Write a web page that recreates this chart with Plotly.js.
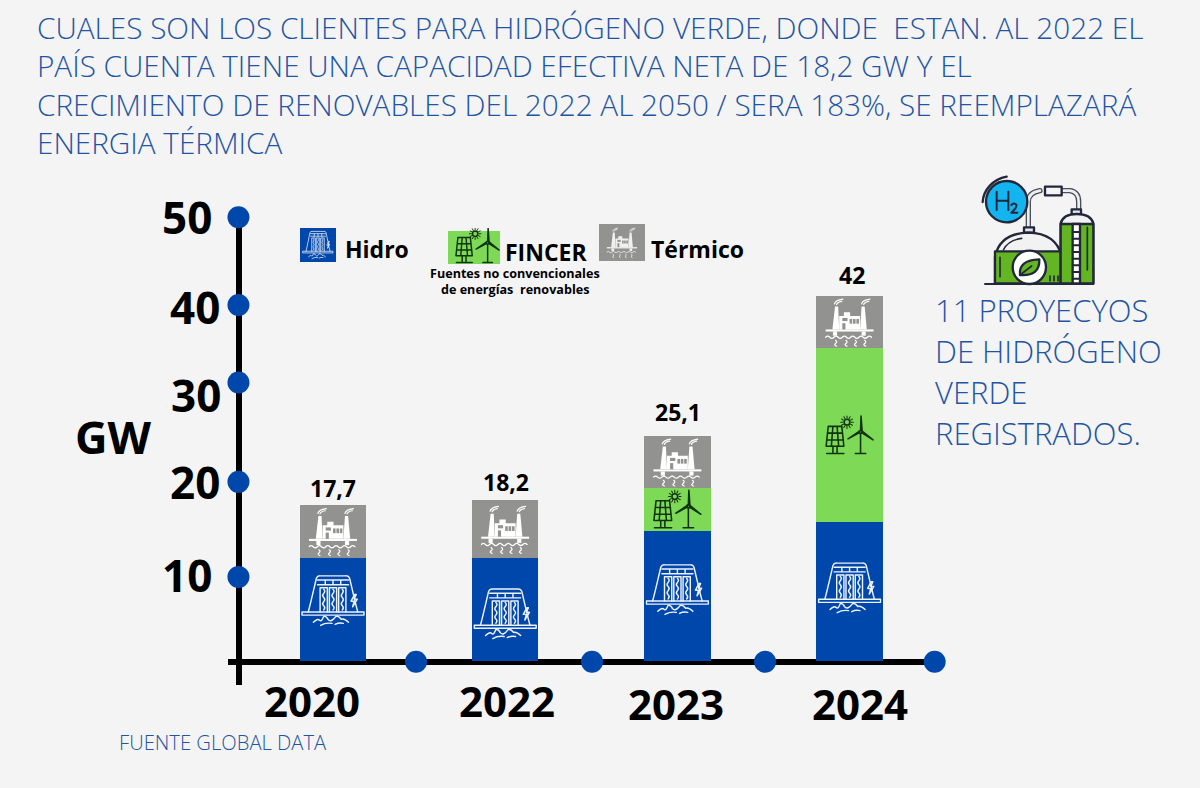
<!DOCTYPE html>
<html>
<head>
<meta charset="utf-8">
<script src="https://cdn.plot.ly/plotly-3.0.1.min.js"></script>
<style>html,body{margin:0;padding:0;background:#f4f4f4}#chart{width:1200px;height:788px}</style>
</head>
<body>
<div id="chart"></div>
<script>
// ---- data ----
const years = ['2020', '2022', '2023', '2024'];
const hidro = [11.6, 11.6, 14.7, 15.7];
const fincer = [0, 0, 4.9, 19.8];
const termico = [6.1, 6.6, 5.9, 5.9];
const totalLabels = ['17,7', '18,2', '25,1', '42'];
const yTickLabels = ['10', '20', '30', '40', '50'];
const yDotValues = [9.5, 20.3, 31.6, 40.4, 50.38];
const xDotValues = [0.482, 1.504, 2.509, 3.494];
const titleLines = [
  'CUALES SON LOS CLIENTES PARA HIDRÓGENO VERDE, DONDE  ESTAN. AL 2022 EL',
  'PAÍS CUENTA TIENE UNA CAPACIDAD EFECTIVA NETA DE 18,2 GW Y EL',
  'CRECIMIENTO DE RENOVABLES DEL 2022 AL 2050 / SERA 183%, SE REEMPLAZARÁ',
  'ENERGIA TÉRMICA'
];
const sideLines = ['11 PROYECYOS', 'DE HIDRÓGENO', 'VERDE', 'REGISTRADOS.'];

// ---- colours and geometry ----
const BLUE = '#0047ab', GREEN = '#7ed957', GREY = '#929290', BG = '#f4f4f4', TXT = '#1f55a3';
const L = 228, R = 935, T = 217, B = 685;
const PXX = 172.2, PXY = 8.8, Y0 = 660.5, X0 = 333;
const xRange = [(L - X0) / PXX, (R - X0) / PXX];
const yRange = [(Y0 - B) / PXY, (Y0 - T) / PXY];
const px = x => (x - L) / (R - L);
const py = y => (B - y) / (B - T);

// ---- icons ----
const uri = s => 'data:image/svg+xml,' + encodeURIComponent(s);
const damBody = `<g fill="none" stroke="#eef3fb" stroke-width="2.8" stroke-linejoin="round" stroke-linecap="round">
<rect x="2" y="72" width="120" height="6"/>
<path d="M14 72C20 50 26 22 30 6Q32 1 38 2H86Q92 1 94 6C98 22 104 50 110 72"/>
<path d="M32 10H92M32 19H92M47 10V19M62 10V19M77 10V19"/>
<path d="M37 72V25H51V72M55 72V25H69V72M73 72V25H87V72"/>
<path d="M44 28q4 4 0 8t0 8t0 8t0 8t0 8M62 28q4 4 0 8t0 8t0 8t0 8t0 8M80 28q4 4 0 8t0 8t0 8t0 8t0 8"/>
<path d="M24 92q8-8 12-4t8-8q6 0 8 6q6 8 16-6q6 0 10 6q6-2 14 6"/>
<path d="M38 98q10-6 22-4M66 96q8-4 16-2"/>
<path d="M104 38l-7 13h6l-3 11l9-15h-6l4-9z"/></g>`;
const dam = uri(`<svg xmlns="http://www.w3.org/2000/svg" viewBox="0 0 124 100" width="248" height="200">${damBody}</svg>`);
const factoryBody = (c) => `<g fill="${c}" stroke="${c}" stroke-linecap="round">
<path d="M14 62L19 18H25L27 62ZM67 62L70 18H76L80 62Z" stroke="none"/>
<path d="M27 62V36H36V29H48V36H67V62Z" stroke="none"/>
<rect x="1" y="62" width="92" height="4" stroke="none"/>
<rect x="15" y="66" width="8" height="8" stroke="none"/><rect x="70" y="66" width="8" height="8" stroke="none"/>
<g fill="${GREY}" stroke="none"><rect x="33" y="40" width="10" height="6"/><rect x="33" y="50" width="6" height="12"/><rect x="47" y="42" width="5" height="9"/><rect x="53.500" y="42" width="5" height="9"/><rect x="60" y="42" width="5" height="9"/></g>
<g fill="none" stroke-width="2.4"><path d="M1 77q4-4 8 0t8 0t8 0t8 0t8 0t8 0t8 0t8 0t8 0t8 0t8 0"/>
<path d="M20 83q4 3 0 6t2 5M40 83q4 3 0 6t2 5M58 83q4 3 0 6t2 5M76 83q4 3 0 6t2 5"/>
<path d="M18 13q2-7 16-9M22 14q2-5 10-6M70 13q2-7 16-9M74 14q2-5 10-6"/></g></g>`;
const factory = uri(`<svg xmlns="http://www.w3.org/2000/svg" viewBox="0 0 94 96" width="188" height="192">${factoryBody('#fff')}</svg>`);
const renewBody = (c) => {
  let rays = '';
  for (let i = 0; i < 12; i++) {
    const a = i * Math.PI / 6;
    rays += `M${42 + 8 * Math.cos(a)} ${14 + 8 * Math.sin(a)}L${42 + 12 * Math.cos(a)} ${14 + 12 * Math.sin(a)}`;
  }
  return `<g fill="none" stroke="${c}" stroke-width="3" stroke-linejoin="round" stroke-linecap="round">
<path d="M6 22H32L36 60H2ZM15 22L12 60M23 22L26 60M4.500 35H33M3.200 48H35"/>
<path d="M15 60V72M23 60V72M3 74H36"/>
<circle cx="42" cy="14" r="5.500"/><path d="${rays}" stroke-width="2"/>
<path d="M68 36V74M58 74H78"/><circle cx="68" cy="33" r="3"/>
<path d="M68 30L69 2L71 30ZM66 34L44 46L66 31ZM70 34L92 48L71 31Z" fill="${c}"/></g>`;
};
const renew = uri(`<svg xmlns="http://www.w3.org/2000/svg" viewBox="0 0 94 78" width="188" height="156">${renewBody('#10340f')}</svg>`);

const legHidro = uri(`<svg xmlns="http://www.w3.org/2000/svg" viewBox="0 0 144 120" width="288" height="240"><rect width="144" height="120" fill="${BLUE}"/><g transform="translate(10,10)">${damBody}</g></svg>`);
const legFincer = uri(`<svg xmlns="http://www.w3.org/2000/svg" viewBox="0 0 104 72" width="312" height="216"><rect y="6" width="104" height="66" fill="${GREEN}"/><g transform="translate(14,-2) scale(0.96)">${renewBody('#10340f')}</g></svg>`);
const legTermico = uri(`<svg xmlns="http://www.w3.org/2000/svg" viewBox="0 0 140 112" width="280" height="224"><rect width="140" height="112" fill="${GREY}"/><g transform="translate(23,8)">${factoryBody('#f0f0f0')}</g></svg>`);

const h2 = uri(`<svg xmlns="http://www.w3.org/2000/svg" viewBox="0 0 420 360" width="840" height="720">
<g stroke="#23273a" stroke-width="7" stroke-linejoin="round" stroke-linecap="round">
<path d="M68 96C70 60 98 28 140 20" fill="none"/>
<path d="M205 175V95Q205 68 240 62M305 62H330Q356 66 356 95V120" fill="none" stroke="#4a4f5c" stroke-width="16"/>
<path d="M205 175V95Q205 68 240 62M305 62H330Q356 66 356 95V120" fill="none" stroke="#eee" stroke-width="8"/>
<rect x="255" y="50" width="50" height="26" fill="#f4f4f4"/>
<circle cx="140" cy="95" r="62" fill="#12b5ef"/>
<path d="M110 65V120M145 65V120M110 92H145" fill="none" stroke-width="6"/>
<path d="M154 105Q162 96 169 104Q172 112 154 128H172" fill="none" stroke-width="6"/>
<rect x="192" y="172" width="30" height="16" fill="#e6e6e6"/>
<path d="M105 340V260Q120 190 205 188Q290 190 305 260V340Z" fill="#f2f2f2"/>
<path d="M105 244H305V340H105Z" fill="#63b521"/>
<path d="M130 240Q145 210 185 205" fill="none" stroke-width="5"/>
<circle cx="208" cy="292" r="50" fill="#fff"/>
<path d="M180 315Q175 270 238 268Q240 320 180 315Z" fill="#63b521"/>
<path d="M180 315L215 288" fill="none" stroke-width="5"/>
<rect x="335" y="118" width="28" height="16" fill="#e6e6e6"/>
<path d="M302 340V160Q310 132 350 132Q392 132 400 160V340Z" fill="#f2f2f2"/>
<path d="M302 162H400V340H302Z" fill="#63b521"/>
<path d="M338 162H360V340H338Z" fill="#fff"/>
<path d="M338 186H360M338 206H360M338 226H360M338 246H360M338 266H360M338 286H360M338 306H360M338 326H360" fill="none" stroke-width="6"/>
<path d="M120 262V320M382 172V300M270 318V332M282 318V332M294 318V332" fill="none" stroke-width="5"/>
<path d="M75 342H400" fill="none" stroke-width="6"/>
</g></svg>`);

// ---- text helper ----
const ann = (text, x, y, size, color, weight, xanchor) => ({
  text, x: px(x), y: py(y), xref: 'paper', yref: 'paper',
  xanchor: xanchor || 'left', yanchor: 'middle', showarrow: false,
  font: { family: '"Open Sans", sans-serif', size, color, weight }, borderpad: 0
});

const annotations = [];
const titleY = [27, 65, 105, 143];
titleLines.forEach((t, i) => annotations.push(ann(t, 36, titleY[i], 29.7, TXT, 300)));
const sideY = [310, 351, 392, 433];
sideLines.forEach((t, i) => annotations.push(ann(t, 934, sideY[i], 31, TXT, 300)));
annotations.push(ann('FUENTE GLOBAL DATA', 118, 742, 20.2, TXT, 300));
annotations.push(ann('GW', 113, 436, 45, '#000', 700, 'center'));
annotations.push(ann('Hidro', 344, 249, 23, '#000', 700));
annotations.push(ann('FINCER', 504, 252, 23, '#000', 700));
annotations.push(ann('Térmico', 650, 249, 23, '#000', 700));
annotations.push(ann('Fuentes no convencionales', 515, 273, 12.6, '#000', 700, 'center'));
annotations.push(ann('de energías  renovables', 515, 289, 12.6, '#000', 700, 'center'));

const tickRight = [213, 221, 222, 221, 213];
const tickPy = [575, 482, 395, 307, 217];
yTickLabels.forEach((t, i) => annotations.push(ann(t, tickRight[i], tickPy[i], 44, '#000', 700, 'right')));

const xLabelX = [312, 507, 676, 860];
const xLabelY = [700, 700, 703, 703];
years.forEach((t, i) => annotations.push(ann(t, xLabelX[i], xLabelY[i], 42, '#000', 700, 'center')));

// totals sit on the top of each stack (category axes take the serial number here)
const labelShift = [17, 18, 24, 21];
const labelDx = [0, 1, 1, 2];
years.forEach((c, i) => annotations.push({
  text: totalLabels[i], x: i, xref: 'x', y: hidro[i] + fincer[i] + termico[i], yref: 'y',
  yshift: labelShift[i], xshift: labelDx[i], yanchor: 'middle', xanchor: 'center', showarrow: false,
  font: { family: '"Open Sans", sans-serif', size: 23, color: '#000', weight: 700 }
}));

// ---- icons on the bars, positioned from the data ----
const images = [];
const onBar = (source, i, yVal, w, h) => images.push({
  source, xref: 'x2', yref: 'y', x: i, y: yVal, sizex: w / PXX, sizey: h / PXY,
  xanchor: 'center', yanchor: 'middle', sizing: 'contain', layer: 'above'
});
const damNudge = [1, -0.5, 0.7, 0.4];
years.forEach((c, i) => {
  onBar(dam, i, hidro[i] / 2 + damNudge[i], 64, 52);
  onBar(factory, i, hidro[i] + fincer[i] + termico[i] / 2, 49, 50);
  if (fincer[i] > 0) onBar(renew, i, hidro[i] + fincer[i] / 2, 49, 41);
});
const paperImg = (source, x0, y0, x1, y1) => images.push({
  source, xref: 'paper', yref: 'paper', x: px(x0), y: py(y0),
  sizex: (x1 - x0) / (R - L), sizey: (y1 - y0) / (B - T),
  xanchor: 'left', yanchor: 'top', sizing: 'stretch', layer: 'above'
});
paperImg(legHidro, 300, 228, 336, 262);
paperImg(legFincer, 448, 228, 500, 264);
paperImg(legTermico, 599, 224, 645, 261);
paperImg(h2, 960, 170, 1100, 290);

// ---- traces ----
const barTrace = (name, y, color) => ({
  type: 'bar', name, x: years, y, marker: { color, line: { width: 0 } },
  hoverinfo: 'x+y+name'
});
const traces = [
  barTrace('Hidro', hidro, BLUE),
  barTrace('FINCER', fincer, GREEN),
  barTrace('Térmico', termico, GREY),
  {
    type: 'scatter', mode: 'markers', xaxis: 'x2', yaxis: 'y', name: 'GW',
    x: yDotValues.map(() => -0.549), y: yDotValues, cliponaxis: false,
    marker: { color: BLUE, size: 22 }, hoverinfo: 'skip'
  },
  {
    type: 'scatter', mode: 'markers', xaxis: 'x2', yaxis: 'y', name: 'Años',
    x: xDotValues, y: xDotValues.map(() => -0.15), cliponaxis: false,
    marker: { color: BLUE, size: 22 }, hoverinfo: 'skip'
  }
];

const layout = {
  width: 1200, height: 788, showlegend: false, barmode: 'stack', bargap: 0.614,
  paper_bgcolor: BG, plot_bgcolor: 'rgba(0,0,0,0)',
  margin: { l: L, r: 1200 - R, t: T, b: 788 - B, pad: 0 },
  font: { family: '"Open Sans", sans-serif' },
  xaxis: {
    type: 'category', categoryorder: 'array', categoryarray: years, range: xRange, fixedrange: true,
    showgrid: false, zeroline: false, showticklabels: false, ticks: '',
    showline: true, linecolor: '#000', linewidth: 6, layer: 'below traces',
    anchor: 'free', position: (B - 662) / (B - T)
  },
  xaxis2: {
    type: 'linear', overlaying: 'x', range: xRange, visible: false, fixedrange: true
  },
  yaxis: {
    type: 'linear', range: yRange, fixedrange: true,
    showgrid: false, zeroline: false, showticklabels: false, ticks: '',
    showline: true, linecolor: '#000', linewidth: 5.5, layer: 'below traces',
    anchor: 'free', position: (238.5 - L) / (R - L)
  },
  annotations, images
};
Plotly.newPlot('chart', traces, layout, { displayModeBar: false, responsive: false });
</script>
</body>
</html>
